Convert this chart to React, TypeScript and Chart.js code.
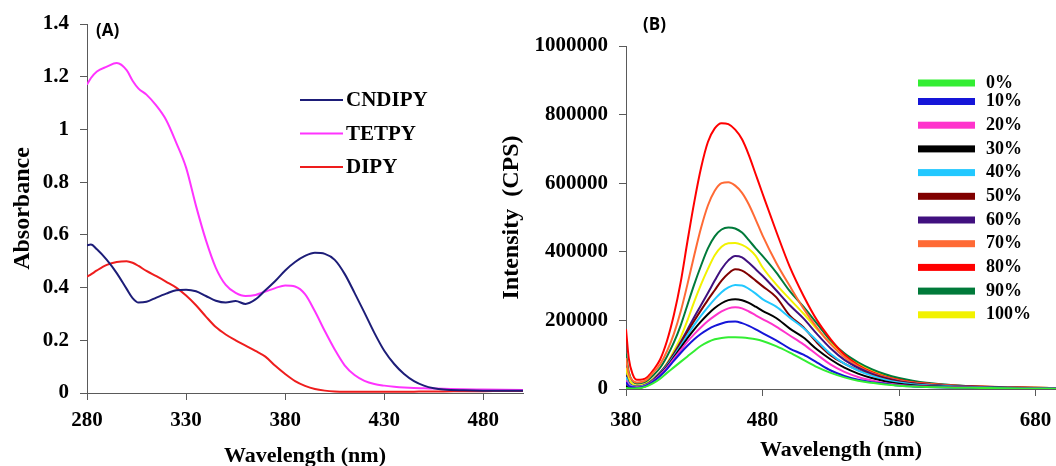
import React, { useEffect, useRef } from "react";
import { Chart, registerables } from "chart.js";

Chart.register(...registerables);

// ---------------- Panel A : absorbance ----------------
const wavelengthA = [280, 282, 285, 290, 295, 300, 303, 306, 310, 315, 320, 325, 330, 335, 340, 345, 350, 355, 360, 365, 370, 375, 380, 385, 390, 395, 400, 405, 410, 415, 420, 425, 430, 435, 440, 445, 450, 455, 460, 470, 480, 490, 500];
const absCNDIPY = [0.561, 0.563, 0.545, 0.505, 0.455, 0.395, 0.36, 0.343, 0.346, 0.362, 0.377, 0.39, 0.392, 0.386, 0.368, 0.35, 0.343, 0.349, 0.338, 0.355, 0.39, 0.425, 0.465, 0.497, 0.52, 0.532, 0.528, 0.505, 0.452, 0.38, 0.305, 0.228, 0.16, 0.11, 0.072, 0.045, 0.028, 0.018, 0.013, 0.01, 0.009, 0.009, 0.009];
const absTETPY = [1.17, 1.195, 1.22, 1.238, 1.252, 1.225, 1.185, 1.155, 1.132, 1.09, 1.035, 0.95, 0.855, 0.71, 0.58, 0.475, 0.41, 0.38, 0.368, 0.372, 0.385, 0.398, 0.408, 0.404, 0.375, 0.31, 0.235, 0.165, 0.105, 0.068, 0.046, 0.034, 0.028, 0.024, 0.021, 0.019, 0.018, 0.017, 0.016, 0.014, 0.013, 0.012, 0.011];
const absDIPY = [0.441, 0.45, 0.465, 0.486, 0.497, 0.5, 0.494, 0.482, 0.463, 0.443, 0.422, 0.4, 0.37, 0.333, 0.29, 0.25, 0.222, 0.2, 0.18, 0.16, 0.138, 0.103, 0.072, 0.045, 0.027, 0.015, 0.009, 0.006, 0.005, 0.005, 0.005, 0.005, 0.005, 0.005, 0.005, 0.005, 0.006, 0.006, 0.006, 0.007, 0.007, 0.008, 0.008];
const namesA = ["CNDIPY", "TETPY", "DIPY"];
const colorsA = ["#1d1d78", "#ff33ff", "#ee1d1d"];
const xTicksA = [280, 330, 380, 430, 480];
const yTicksA = [0, 0.2, 0.4, 0.6, 0.8, 1, 1.2, 1.4];

// ---------------- Panel B : fluorescence ----------------
const wavelengthB = [380, 382, 385, 388, 392, 396, 400, 405, 410, 415, 420, 425, 430, 435, 440, 445, 450, 455, 460, 465, 470, 475, 480, 490, 500, 510, 520, 530, 540, 550, 560, 570, 580, 590, 600, 620, 640, 660, 680, 695];
const int0 = [3000, 2000, 1500, 2000, 4000, 9000, 17000, 30000, 47000, 63000, 79000, 95000, 111000, 126000, 137000, 145000, 149000, 151000, 151000, 150000, 148000, 145000, 140000, 125000, 106000, 85000, 64000, 47000, 34000, 24000, 18000, 13000, 9500, 7000, 5500, 4000, 3000, 2000, 1500, 1000];
const int10 = [20000, 9000, 5000, 4000, 6000, 12000, 22000, 38000, 58000, 82000, 105000, 126000, 145000, 161000, 174000, 184000, 191000, 196000, 197000, 192000, 184000, 174000, 163000, 142000, 118000, 100000, 77000, 54000, 38000, 27000, 20000, 15000, 10000, 7500, 6000, 4000, 3000, 2000, 1500, 1000];
const int20 = [25000, 12000, 6000, 5000, 7000, 13000, 24000, 41000, 62000, 88000, 113000, 138000, 160000, 180000, 198000, 213000, 226000, 235000, 238000, 235000, 226000, 215000, 204000, 182000, 156000, 130000, 100000, 71000, 50000, 35000, 25000, 17000, 12000, 9000, 7000, 5000, 3500, 2500, 2000, 1500];
const int30 = [8000, 4000, 3000, 3000, 5000, 12000, 25000, 43000, 65000, 92000, 120000, 148000, 174000, 197000, 218000, 236000, 250000, 259000, 262000, 259000, 251000, 240000, 228000, 207000, 176000, 150000, 115000, 86000, 62000, 45000, 32000, 22000, 15000, 11000, 8500, 6000, 4000, 3000, 2000, 1500];
const int40 = [35000, 15000, 8000, 6000, 8000, 14000, 26000, 45000, 68000, 96000, 126000, 157000, 187000, 214000, 239000, 262000, 282000, 296000, 303000, 302000, 292000, 278000, 262000, 240000, 208000, 178000, 140000, 102000, 74000, 54000, 39000, 27000, 19000, 14000, 11000, 7500, 5000, 3500, 2500, 2000];
const int50 = [35000, 16000, 8000, 6000, 8000, 15000, 27000, 46000, 70000, 100000, 132000, 166000, 199000, 230000, 260000, 288000, 316000, 337000, 349000, 345000, 332000, 316000, 300000, 268000, 214000, 180000, 135000, 98000, 74000, 55000, 41000, 30000, 21000, 16000, 12000, 8000, 5500, 4000, 3000, 2500];
const int60 = [40000, 18000, 9000, 7000, 9000, 16000, 28000, 48000, 72000, 103000, 137000, 173000, 210000, 245000, 280000, 316000, 350000, 375000, 388000, 384000, 368000, 349000, 330000, 288000, 244000, 206000, 160000, 118000, 85000, 62000, 45000, 32000, 23000, 17000, 13000, 8500, 6000, 4000, 3000, 2500];
const int70 = [90000, 45000, 24000, 19000, 21000, 30000, 48000, 72000, 110000, 160000, 225000, 305000, 390000, 470000, 535000, 578000, 600000, 603000, 593000, 572000, 538000, 494000, 448000, 368000, 300000, 235000, 178000, 130000, 93000, 66000, 47000, 34000, 25000, 19000, 15000, 9500, 6500, 4500, 3500, 3000];
const int80 = [175000, 90000, 42000, 27000, 28000, 36000, 55000, 86000, 140000, 215000, 310000, 430000, 545000, 645000, 720000, 760000, 775000, 772000, 756000, 728000, 682000, 626000, 570000, 460000, 356000, 272000, 200000, 145000, 100000, 70000, 50000, 36000, 27000, 20000, 16000, 10000, 7000, 5000, 3500, 3000];
const int90 = [103000, 50000, 22000, 16000, 18000, 26000, 40000, 62000, 95000, 135000, 185000, 245000, 305000, 360000, 410000, 445000, 465000, 471000, 468000, 456000, 434000, 410000, 388000, 340000, 285000, 240000, 190000, 141000, 104000, 78000, 58000, 43000, 32000, 24000, 18000, 11000, 7000, 5000, 3500, 3000];
const int100 = [62000, 30000, 14000, 10000, 12000, 19000, 30000, 48000, 75000, 110000, 150000, 200000, 255000, 305000, 350000, 390000, 415000, 425000, 426000, 420000, 408000, 388000, 355000, 305000, 262000, 220000, 174000, 134000, 100000, 75000, 55000, 40000, 29000, 21000, 15000, 9500, 6500, 4500, 3500, 3000];
const seriesB = [int0, int10, int20, int30, int40, int50, int60, int70, int80, int90, int100];
const labelsB = ["0%", "10%", "20%", "30%", "40%", "50%", "60%", "70%", "80%", "90%", "100%"];
const colorsB = ["#33ee33", "#1515d8", "#ff33cc", "#000000", "#22c8ff", "#800000", "#40107f", "#ff6a35", "#ff0000", "#007a3a", "#f2f200"];
const xTicksB = [380, 480, 580, 680];
const yTicksB = [0, 200000, 400000, 600000, 800000, 1000000];

const AXIS = "#5a5a5a";
const SERIF = "'Liberation Serif', 'Times New Roman', serif";
const SANS = "'Open Sans', 'Liberation Sans', sans-serif";
const CANVAS_H = 476;

function xScale(min: number, max: number, ticks: number[], height: number, title: string, labelPad: number, titlePad: number) {
  return {
    type: "linear",
    min,
    max,
    afterBuildTicks: (s: any) => { s.ticks = ticks.map((v) => ({ value: v })); },
    afterFit: (s: any) => { s.height = height; s.paddingLeft = 0; s.paddingRight = 0; },
    ticks: { color: "#000", font: { family: SERIF, size: 21, weight: "bold" }, padding: labelPad, maxRotation: 0, autoSkip: false, callback: (v: any) => String(v) },
    grid: { drawOnChartArea: false, drawTicks: true, tickLength: 7, color: AXIS, lineWidth: 1 },
    border: { display: true, color: AXIS, width: 1 },
    title: { display: true, text: title, color: "#000", font: { family: SERIF, size: 22, weight: "bold" }, padding: { top: 0, bottom: titlePad } },
  };
}

function yScale(min: number, max: number, ticks: number[], width: number, title: string, titlePad: number) {
  return {
    type: "linear",
    min,
    max,
    afterBuildTicks: (s: any) => { s.ticks = ticks.map((v) => ({ value: v })); },
    afterFit: (s: any) => { s.width = width; s.paddingTop = 0; s.paddingBottom = 0; },
    ticks: { color: "#000", font: { family: SERIF, size: 21, weight: "bold" }, padding: 11, autoSkip: false, callback: (v: any) => String(v) },
    grid: { drawOnChartArea: false, drawTicks: true, tickLength: 7, color: AXIS, lineWidth: 1 },
    border: { display: true, color: AXIS, width: 1 },
    title: { display: true, text: title, color: "#000", font: { family: SERIF, size: 24, weight: "bold" }, padding: { top: titlePad, bottom: 0 } },
  };
}

const legendAPlugin = {
  id: "legendA",
  afterDraw(chart: any) {
    const ctx = chart.ctx;
    ctx.save();
    ctx.font = `bold 17px ${SANS}`;
    ctx.fillStyle = "#000";
    ctx.textBaseline = "middle";
    ctx.textAlign = "left";
    ctx.fillText("(A)", 96, 31);
    ctx.font = `bold 21px ${SERIF}`;
    chart.data.datasets.forEach((ds: any, i: number) => {
      const y = 100 + i * 33.5;
      ctx.strokeStyle = ds.borderColor;
      ctx.lineWidth = 2;
      ctx.beginPath();
      ctx.moveTo(300, y);
      ctx.lineTo(343, y);
      ctx.stroke();
      ctx.fillText(ds.label, 346, y + 1);
    });
    ctx.restore();
  },
};

const legendBPlugin = {
  id: "legendB",
  afterDraw(chart: any) {
    const ctx = chart.ctx;
    ctx.save();
    ctx.font = `bold 17px ${SANS}`;
    ctx.fillStyle = "#000";
    ctx.textBaseline = "middle";
    ctx.textAlign = "left";
    ctx.fillText("(B)", 153, 25);
    ctx.font = `bold 18px ${SERIF}`;
    chart.data.datasets.forEach((ds: any, i: number) => {
      const y = i === 0 ? 83 : 101.5 + (i - 1) * 23.7;
      ctx.fillStyle = ds.borderColor;
      ctx.fillRect(428, y - 3.5, 57, 7);
      ctx.fillStyle = "#000";
      ctx.fillText(ds.label, 496, y);
    });
    ctx.restore();
  },
};

export default function App() {
  const refA = useRef<HTMLCanvasElement | null>(null);
  const refB = useRef<HTMLCanvasElement | null>(null);

  useEffect(() => {
    const valuesA = [absCNDIPY, absTETPY, absDIPY];
    const chartA = new Chart(refA.current as HTMLCanvasElement, {
      type: "line",
      data: {
        datasets: valuesA.map((vals, i) => ({
          label: namesA[i],
          data: wavelengthA.map((x, j) => ({ x, y: vals[j] })),
          borderColor: colorsA[i],
          borderWidth: 2,
          pointRadius: 0,
          cubicInterpolationMode: "monotone",
          fill: false,
        })),
      },
      options: {
        responsive: false,
        animation: false,
        events: [],
        layout: { padding: { left: 0, right: 7, top: 24, bottom: 0 } },
        scales: {
          x: xScale(280, 500, xTicksA, CANVAS_H - 393, "Wavelength (nm)", 8, 6),
          y: yScale(0, 1.4, yTicksA, 87, "Absorbance", 8),
        },
        plugins: { legend: { display: false }, tooltip: { enabled: false } },
      } as any,
      plugins: [legendAPlugin],
    } as any);

    const chartB = new Chart(refB.current as HTMLCanvasElement, {
      type: "line",
      data: {
        datasets: seriesB.map((vals, i) => ({
          label: labelsB[i],
          data: wavelengthB.map((x, j) => ({ x, y: vals[j] })),
          borderColor: colorsB[i],
          borderWidth: 2,
          pointRadius: 0,
          cubicInterpolationMode: "monotone",
          fill: false,
        })),
      },
      options: {
        responsive: false,
        animation: false,
        events: [],
        layout: { padding: { left: 0, right: 0, top: 46, bottom: 0 } },
        scales: {
          x: xScale(380, 695, xTicksB, CANVAS_H - 389, "Wavelength (nm)", 12, 12),
          y: yScale(0, 1000000, yTicksB, 136, "Intensity  (CPS)", 7),
        },
        plugins: { legend: { display: false }, tooltip: { enabled: false } },
      } as any,
      plugins: [legendBPlugin],
    } as any);

    return () => {
      chartA.destroy();
      chartB.destroy();
    };
  }, []);

  return (
    <div style={{ position: "fixed", left: 0, top: 0, width: 1056, height: 466, background: "#fff", overflow: "hidden" }}>
      <canvas ref={refA} width={530} height={CANVAS_H} style={{ position: "absolute", left: 0, top: 0 }} />
      <canvas ref={refB} width={566} height={CANVAS_H} style={{ position: "absolute", left: 490, top: 0 }} />
    </div>
  );
}
